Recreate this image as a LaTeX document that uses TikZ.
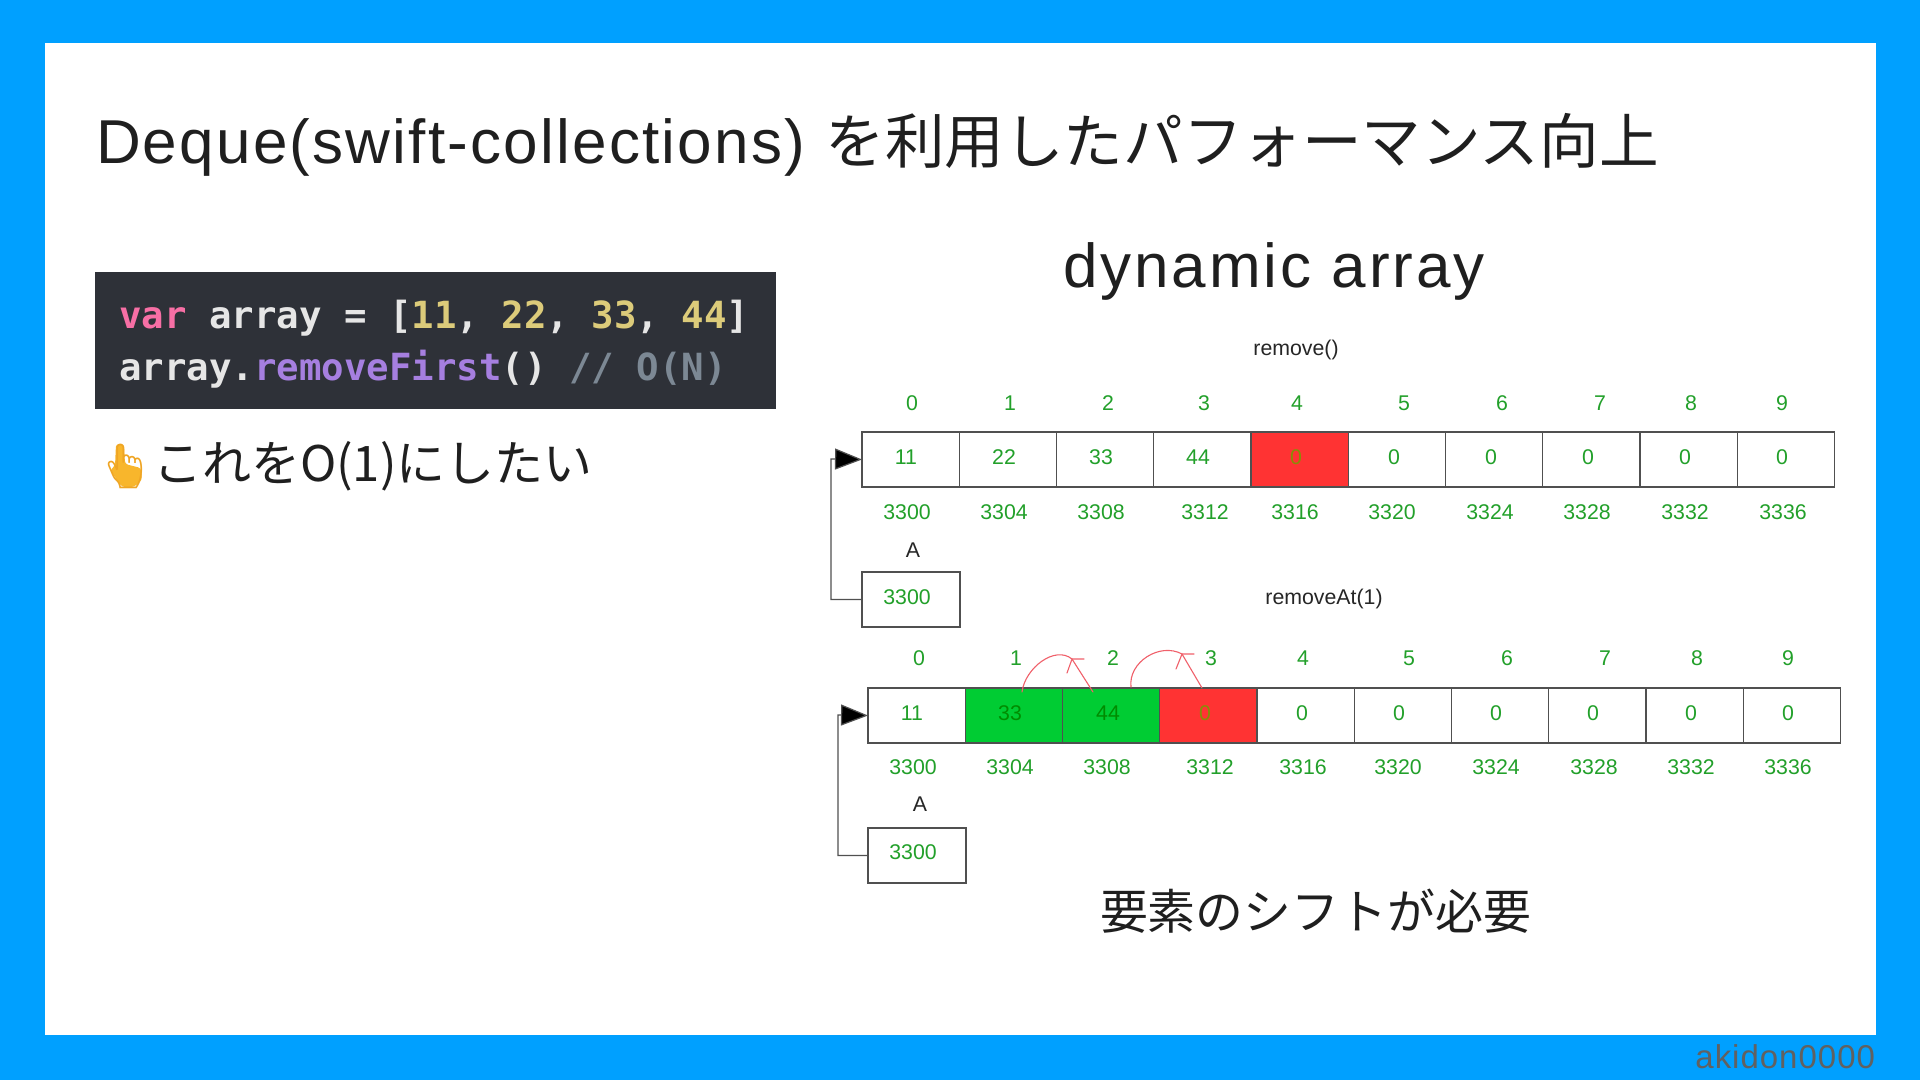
\documentclass[tikz,border=0pt]{standalone}
\usepackage{fontspec}
\setmainfont{Liberation Sans}
\newfontfamily\cjk{Noto Sans CJK JP}
\newfontfamily\codefont{DejaVu Sans Mono}
\newfontfamily\emojifont{Noto Emoji}
\newfontfamily\widetitle[LetterSpace=3.6]{Liberation Sans}
\newfontfamily\widedyn[LetterSpace=4.8]{Liberation Sans}
\newfontfamily\widesig[LetterSpace=3]{Liberation Sans}
\usetikzlibrary{arrows.meta}
\definecolor{frameblue}{HTML}{00A0FF}
\definecolor{codebg}{HTML}{2E3138}
\definecolor{cgreen}{HTML}{22A02A}
\definecolor{cred}{HTML}{FF3333}
\definecolor{cfill}{HTML}{00CC33}
\definecolor{cline}{HTML}{505050}
\definecolor{arcred}{HTML}{F0606A}
\definecolor{cpink}{HTML}{F76FA5}
\definecolor{cwhite}{HTML}{E6E6E6}
\definecolor{cyellow}{HTML}{DCCB7A}
\definecolor{cpurple}{HTML}{A67FE0}
\definecolor{cgray}{HTML}{7C8894}
\definecolor{handfill}{HTML}{F8B62C}
\definecolor{handline}{HTML}{EFA524}
\tikzset{
  every node/.style={inner sep=0pt,outer sep=0pt},
  cellbox/.style={draw=cline,line width=1.1pt,minimum width=97.25pt,minimum height=55pt,fill=white},
  grn/.style={anchor=base,yshift=1pt,text=cgreen,font=\fontsize{21.3}{24}\selectfont},
  blk/.style={anchor=base,yshift=1pt,text=black!85,font=\fontsize{21.3}{24}\selectfont},
  link/.style={draw=cline,line width=1.2pt,-{Triangle[length=27pt,width=21pt,fill=black]}},
  arc/.style={draw=arcred,line width=1.1pt,line cap=round},
  big/.style={anchor=base west,text=black!88}
}
\begin{document}
\begin{tikzpicture}[x=1pt,y=-1pt]
\useasboundingbox (0,0) rectangle (1920,1080);
\fill[frameblue] (0,0) rectangle (1920,1080);
\fill[white] (45,43) rectangle (1876,1035);
\node[big,font=\fontsize{62}{66}\widetitle] (title) at (96,163) {Deque(swift-collections)\hspace{20pt}{\fontsize{59.6}{66}\cjk を利用したパフォーマンス向上}};
\node[big,font=\fontsize{62}{66}\widedyn] (dyn) at (1063,287) {dynamic array};
% code box
\node[fill=codebg,minimum width=681pt,minimum height=137pt,anchor=north west] (code) at (95,272) {};
\node[anchor=base west,font=\fontsize{37.4}{40}\codefont\bfseries] (line1) at (119,328) {\textcolor{cpink}{var}\textcolor{cwhite}{\ array = [}\textcolor{cyellow}{11}\textcolor{cwhite}{,\ }\textcolor{cyellow}{22}\textcolor{cwhite}{,\ }\textcolor{cyellow}{33}\textcolor{cwhite}{,\ }\textcolor{cyellow}{44}\textcolor{cwhite}{]}};
\node[anchor=base west,font=\fontsize{37.4}{40}\codefont\bfseries] (line2) at (119,380) {\textcolor{cwhite}{array.}\textcolor{cpurple}{removeFirst}\textcolor{cwhite}{()}\textcolor{cgray}{\ // O(N)}};
% wish
\fill[handfill,rounded corners=3pt] (116,444) -- (124,444) -- (125,464) -- (141,468) -- (142,480) -- (134,487) -- (122,487) -- (110,470) -- (115,466) -- cycle;
\node[anchor=base,text=handline,font=\fontsize{44}{48}\emojifont] (hand) at (125,481) {👆};
\node[big,font=\fontsize{49}{54}\cjk] (wish) at (153,481) {これをO(1)にしたい};
% top array
\node[blk] (rm) at (1296,356) {remove()};
\foreach \i/\x in {0/912,1/1010,2/1108,3/1204,4/1297,5/1404,6/1502,7/1600,8/1691,9/1782}
  \node[grn] (ti\i) at (\x,411) {\i};
\foreach \i in {0,...,9}
  \node[cellbox,anchor=north west] (tc\i) at ({862+97.25*\i},432) {};
\node[cellbox,anchor=north west,fill=cred] (tc4) at ({862+97.25*4},432) {};
\foreach \i/\x/\v in {0/906/11,1/1004/22,2/1101/33,3/1198/44,5/1394/0,6/1491/0,7/1588/0,8/1685/0,9/1782/0}
  \node[grn] (tv\i) at (\x,465) {\v};
\node[grn,text=olive!85!green] (tv4) at (1296,465) {0};
\foreach \i/\x/\v in {0/907/3300,1/1004/3304,2/1101/3308,3/1205/3312,4/1295/3316,5/1392/3320,6/1490/3324,7/1587/3328,8/1685/3332,9/1783/3336}
  \node[grn] (ta\i) at (\x,520) {\v};
\node[blk] (tA) at (913,558) {A};
\node[cellbox,anchor=north west,minimum width=98pt] (tp) at (862,572) {};
\node[grn] (tpv) at (907,605) {3300};
\coordinate (telb) at (831,459);
\draw[link] (tp.west) -| (telb) -- (tc0.west);
% bottom array
\node[blk] (rmat) at (1324,605) {removeAt(1)};
\foreach \i/\x in {0/919,1/1016,2/1113,3/1211,4/1303,5/1409,6/1507,7/1605,8/1697,9/1788}
  \node[grn] (bi\i) at (\x,666) {\i};
\foreach \i in {0,...,9}
  \node[cellbox,anchor=north west] (bc\i) at ({868+97.25*\i},688) {};
\node[cellbox,anchor=north west,fill=cfill] (bc1) at ({868+97.25*1},688) {};
\node[cellbox,anchor=north west,fill=cfill] (bc2) at ({868+97.25*2},688) {};
\node[cellbox,anchor=north west,fill=cred] (bc3) at ({868+97.25*3},688) {};
\foreach \i/\x/\v in {0/912/11,4/1302/0,5/1399/0,6/1496/0,7/1593/0,8/1691/0,9/1788/0}
  \node[grn] (bv\i) at (\x,721) {\v};
\node[grn,text=green!55!black] (bv1) at (1010,721) {33};
\node[grn,text=green!55!black] (bv2) at (1108,721) {44};
\node[grn,text=olive!85!green] (bv3) at (1205,721) {0};
\foreach \i/\x/\v in {0/913/3300,1/1010/3304,2/1107/3308,3/1210/3312,4/1303/3316,5/1398/3320,6/1496/3324,7/1594/3328,8/1691/3332,9/1788/3336}
  \node[grn] (ba\i) at (\x,775) {\v};
\node[blk] (bA) at (920,812) {A};
\node[cellbox,anchor=north west,minimum width=98pt] (bp) at (868,828) {};
\node[grn] (bpv) at (913,860) {3300};
\coordinate (belb) at (838,715);
\draw[link] (bp.west) -| (belb) -- (bc0.west);
% red shift arrows
\coordinate (a1s) at (1022,692); \coordinate (a1e) at (1084,659);
\coordinate (h1) at (1072,659); \coordinate (f1) at (1093,692); \coordinate (b1) at (1067,673);
\coordinate (a2s) at (1131,687); \coordinate (a2e) at (1194,654);
\coordinate (h2) at (1182,654); \coordinate (f2) at (1202,688); \coordinate (b2) at (1176,669);
\draw[arc] (a1s) .. controls (1025,668) and (1055,645) .. (1072,659) -- (a1e);
\draw[arc] (f1) -- (h1) -- (b1);
\draw[arc] (a2s) .. controls (1128,662) and (1160,642) .. (1182,654) -- (a2e);
\draw[arc] (f2) -- (h2) -- (b2);
% captions
\node[big,font=\fontsize{47.9}{52}\cjk] (note) at (1100,929) {要素のシフトが必要};
\node[anchor=base east,text=black!62,font=\fontsize{33}{36}\widesig] (sig) at (1875,1068) {akidon0000};
\end{tikzpicture}
\end{document}
